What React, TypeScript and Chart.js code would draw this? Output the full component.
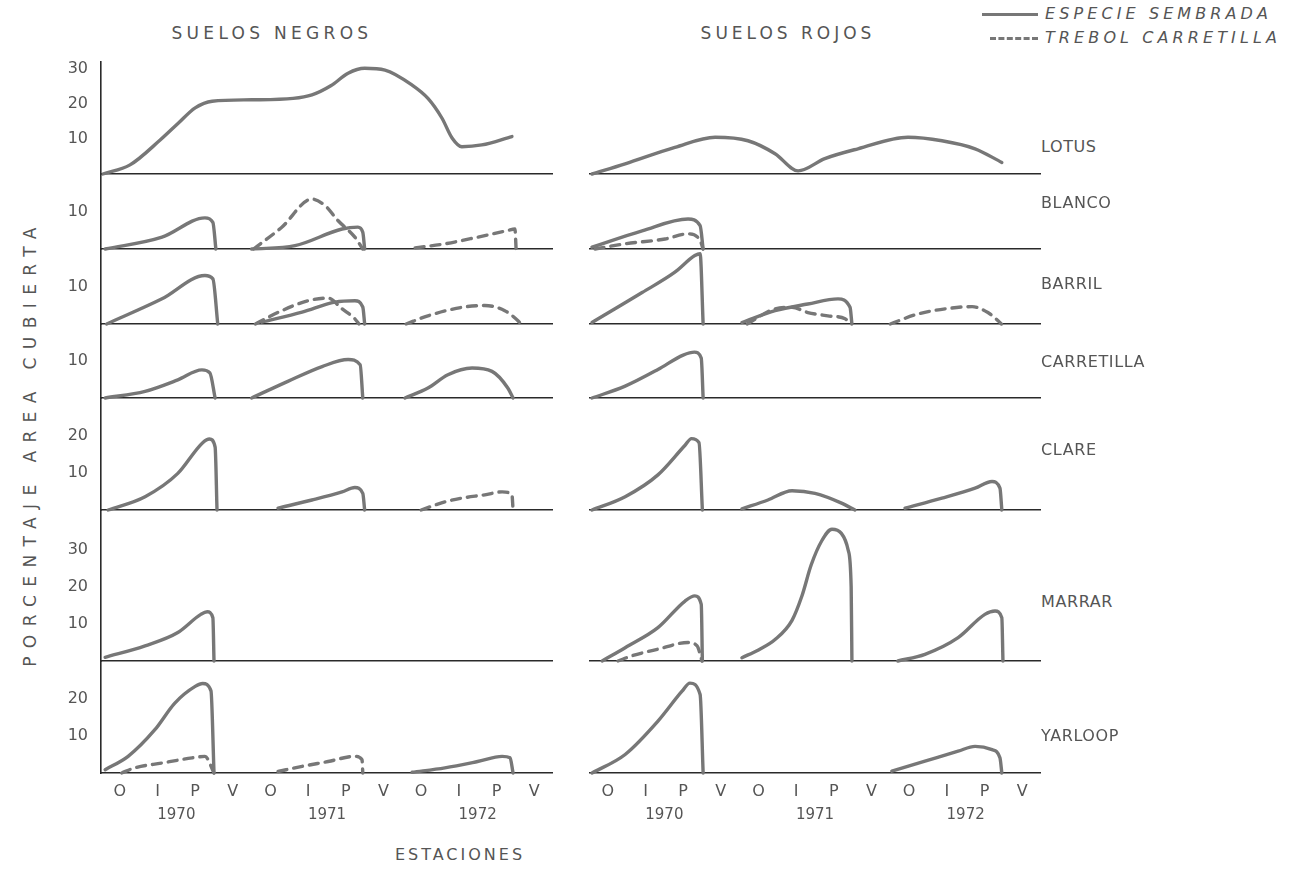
import React, { useEffect, useRef } from 'react';
import { Chart, registerables } from 'chart.js';

Chart.register(...registerables);

// Seasons on each x axis (Otoño, Invierno, Primavera, Verano) for three years
const seasonLabels = ['O', 'I', 'P', 'V', 'O', 'I', 'P', 'V', 'O', 'I', 'P', 'V'];
const yearLabels = ['1970', '1971', '1972'];
const speciesNames = ['LOTUS', 'BLANCO', 'BARRIL', 'CARRETILLA', 'CLARE', 'MARRAR', 'YARLOOP'];
const soilTitles = ['SUELOS NEGROS', 'SUELOS ROJOS'];
const seriesNames = ['ESPECIE SEMBRADA', 'TREBOL CARRETILLA'];
const yTickValues = [[10, 20, 30], [10], [10], [10], [10, 20], [10, 20, 30], [10, 20]];

// Each point: [season position, % area cubierta]; null ends a growing period
type Pt = [number, number | null];

// ---- Suelos negros ----
const negrosLotusSembrada: Pt[] = [[-0.45, 0], [0.27, 2.6], [1.07, 9.7], [1.55, 14.5], [2.0, 18.9], [2.45, 20.8], [3.5, 21.2], [4.6, 21.6], [5.1, 22.6], [5.6, 25.2], [6.06, 28.8], [6.5, 30.2], [7.04, 29.7], [7.76, 25.4], [8.18, 21.6], [8.55, 16], [8.82, 10.3], [9.08, 7.8], [9.61, 8.3], [10.41, 10.7]];
const negrosLotusTrebol: Pt[] = [];
const negrosBlancoSembrada: Pt[] = [[-0.39, 0], [1.12, 3.2], [2.26, 8.4], [2.47, 7.2], [2.55, 0], [3, null], [3.5, 0], [4.65, 0.9], [5.9, 5.4], [6.32, 5.9], [6.45, 4.5], [6.5, 0]];
const negrosBlancoTrebol: Pt[] = [[3.55, 0], [4.3, 5.9], [5.1, 13.5], [5.45, 11.7], [5.79, 7.7], [6.24, 3.2], [6.45, 0], [7, null], [7.84, 0.3], [8.63, 1.4], [9.5, 3.2], [10.3, 5.0], [10.49, 5.4], [10.52, 0]];
const negrosBarrilSembrada: Pt[] = [[-0.35, 0], [1.12, 6.8], [2.26, 13.1], [2.47, 12.2], [2.6, 0], [3, null], [3.77, 0.5], [4.84, 3.2], [5.71, 5.9], [6.24, 6.3], [6.45, 4.6], [6.5, 0]];
const negrosBarrilTrebol: Pt[] = [[3.6, 0], [4.3, 3.6], [5.0, 6.3], [5.53, 7.0], [5.9, 4.1], [6.24, 1.4], [6.35, 0], [7, null], [7.6, 0], [8.18, 2.2], [9.08, 4.5], [9.69, 5.0], [10.22, 3.6], [10.57, 0.9], [10.65, 0]];
const negrosCarretillaSembrada: Pt[] = [[-0.39, 0], [0.67, 1.8], [1.54, 4.9], [2.18, 7.6], [2.39, 6.8], [2.53, 0], [3, null], [3.5, 0], [4.46, 4.5], [5.37, 8.5], [6.06, 10.4], [6.38, 9.0], [6.45, 0], [7, null], [7.57, 0], [8.18, 2.7], [8.71, 6.3], [9.35, 8.1], [9.88, 7.2], [10.3, 2.7], [10.44, 0]];
const negrosCarretillaTrebol: Pt[] = [];
const negrosClareSembrada: Pt[] = [[-0.31, 0], [0.67, 3.6], [1.54, 9.9], [2.2, 18.2], [2.38, 19.2], [2.53, 17.0], [2.58, 0], [3, null], [4.2, 0.5], [5.1, 2.7], [5.9, 4.9], [6.24, 6.1], [6.45, 4.5], [6.5, 0]];
const negrosClareTrebol: Pt[] = [[8.0, 0], [8.63, 2.2], [9.08, 3.2], [9.69, 4.1], [10.15, 4.9], [10.41, 4.1], [10.44, 0]];
const negrosMarrarSembrada: Pt[] = [[-0.39, 1], [0.67, 4.1], [1.54, 7.7], [2.15, 12.6], [2.32, 13.3], [2.47, 11.7], [2.5, 0]];
const negrosMarrarTrebol: Pt[] = [];
const negrosYarloopSembrada: Pt[] = [[-0.39, 0.9], [0.22, 4.5], [0.93, 11.7], [1.46, 18.9], [2.0, 23.4], [2.2, 24.2], [2.42, 22.2], [2.5, 0], [3, null], [7.76, 0.2], [8.63, 1.4], [9.5, 3.1], [10.15, 4.5], [10.36, 4.1], [10.44, 0]];
const negrosYarloopTrebol: Pt[] = [[0.05, 0], [0.4, 1.4], [1.12, 2.7], [1.92, 4.1], [2.26, 4.5], [2.5, 0], [3, null], [4.2, 0.4], [4.84, 1.8], [5.53, 3.1], [6.24, 4.5], [6.43, 3.6], [6.45, 0]];

// ---- Suelos rojos ----
const rojosLotusSembrada: Pt[] = [[-0.42, 0], [0.46, 2.9], [1.78, 7.6], [2.85, 10.5], [3.72, 9.5], [4.44, 5.8], [5.05, 0.9], [5.76, 4.4], [6.64, 7.2], [7.97, 10.5], [8.87, 9.5], [9.75, 7.2], [10.46, 3.3]];
const rojosLotusTrebol: Pt[] = [];
const rojosBlancoSembrada: Pt[] = [[-0.42, 0.5], [0.91, 4.9], [2.13, 8.1], [2.45, 6.3], [2.53, 0]];
const rojosBlancoTrebol: Pt[] = [[-0.34, 0], [0.46, 1.4], [1.52, 2.7], [2.13, 4.1], [2.45, 2.3], [2.53, 0]];
const rojosBarrilSembrada: Pt[] = [[-0.42, 0.4], [0.91, 8.5], [1.78, 14.0], [2.31, 18.5], [2.45, 19], [2.53, 0], [3, null], [3.56, 0.4], [4.44, 3.6], [5.31, 5.4], [6.11, 6.8], [6.43, 4.5], [6.48, 0]];
const rojosBarrilTrebol: Pt[] = [[3.7, 0], [4.44, 4.1], [4.89, 4.5], [5.31, 3.1], [5.84, 2.2], [6.3, 1.4], [6.45, 0], [7, null], [7.5, 0], [8.23, 2.7], [9.03, 4.2], [9.67, 4.7], [10.09, 3.1], [10.36, 0.9], [10.45, 0]];
const rojosCarretillaSembrada: Pt[] = [[-0.42, 0], [0.46, 3.2], [1.33, 7.7], [2.0, 11.6], [2.3, 12.4], [2.48, 10.8], [2.53, 0]];
const rojosCarretillaTrebol: Pt[] = [];
const rojosClareSembrada: Pt[] = [[-0.42, 0], [0.46, 3.6], [1.33, 9.5], [2.05, 17.5], [2.22, 19.3], [2.42, 18.2], [2.51, 0], [3, null], [3.56, 0.3], [4.25, 2.7], [4.89, 5.2], [5.5, 4.5], [6.22, 1.8], [6.56, 0], [7, null], [7.89, 0.5], [8.87, 3.2], [9.75, 5.9], [10.2, 7.7], [10.41, 5.9], [10.46, 0]];
const rojosClareTrebol: Pt[] = [];
const rojosMarrarSembrada: Pt[] = [[-0.15, 0], [0.46, 3.6], [1.33, 9.0], [2.05, 16.2], [2.31, 17.6], [2.48, 15.3], [2.51, 0], [3, null], [3.56, 0.9], [4.0, 3.0], [4.44, 5.8], [4.89, 11], [5.15, 17.5], [5.4, 26], [5.68, 32.5], [5.95, 35.6], [6.2, 34.5], [6.38, 30], [6.46, 20], [6.48, 0], [7, null], [7.7, 0], [8.42, 1.8], [9.3, 6.3], [10.01, 12.6], [10.28, 13.5], [10.46, 11.7], [10.49, 0]];
const rojosMarrarTrebol: Pt[] = [[0.27, 0], [0.64, 1.4], [1.33, 3.2], [2.13, 5.0], [2.37, 4.1], [2.5, 0]];
const rojosYarloopSembrada: Pt[] = [[-0.42, 0], [0.46, 5.0], [1.33, 14.0], [1.97, 22.1], [2.18, 24.3], [2.45, 21.2], [2.53, 0], [3, null], [7.54, 0.5], [8.42, 3.2], [9.3, 5.9], [9.75, 7.2], [10.2, 6.3], [10.41, 4.1], [10.46, 0]];
const rojosYarloopTrebol: Pt[] = [];

const negrosSembrada = [negrosLotusSembrada, negrosBlancoSembrada, negrosBarrilSembrada, negrosCarretillaSembrada, negrosClareSembrada, negrosMarrarSembrada, negrosYarloopSembrada];
const negrosTrebol = [negrosLotusTrebol, negrosBlancoTrebol, negrosBarrilTrebol, negrosCarretillaTrebol, negrosClareTrebol, negrosMarrarTrebol, negrosYarloopTrebol];
const rojosSembrada = [rojosLotusSembrada, rojosBlancoSembrada, rojosBarrilSembrada, rojosCarretillaSembrada, rojosClareSembrada, rojosMarrarSembrada, rojosYarloopSembrada];
const rojosTrebol = [rojosLotusTrebol, rojosBlancoTrebol, rojosBarrilTrebol, rojosCarretillaTrebol, rojosClareTrebol, rojosMarrarTrebol, rojosYarloopTrebol];

// ---- Layout (pixels) ----
const ROWS = [
  { top: 62, base: 174, ppu: 3.5 },
  { top: 174, base: 249, ppu: 3.7 },
  { top: 249, base: 324, ppu: 3.7 },
  { top: 324, base: 398, ppu: 3.7 },
  { top: 398, base: 510, ppu: 3.7 },
  { top: 510, base: 661, ppu: 3.7 },
  { top: 661, base: 773, ppu: 3.7 },
];
const LEFT_AXIS_X = 101;
const LEFT_CANVAS_X = 40;
const PLOT_W = 452;
const RIGHT_PLOT_X = 589;
const PAD_TOP = 8;
const PAD_BOTTOM = 4;
const SEASON_AXIS_H = 28;
const YEAR_AXIS_H = 32;
const ROW_LABEL_Y = [147, 203, 284, 362, 450, 602, 736];

const LINE_COLOR = '#777';
const AXIS_COLOR = '#2a2a2a';
const TEXT_COLOR = '#555';
const FONT = '"DejaVu Sans", sans-serif';

const toXY = (pts: Pt[]) => pts.map(([x, y]) => ({ x, y }));

function Panel({ row, side }: { row: number; side: 'left' | 'right' }) {
  const ref = useRef<HTMLCanvasElement>(null);
  const { top, base, ppu } = ROWS[row];
  const isLeft = side === 'left';
  const isBottom = row === ROWS.length - 1;
  const axisW = isLeft ? LEFT_AXIS_X - LEFT_CANVAS_X : 0;
  const width = PLOT_W + axisW;
  const bottomH = isBottom ? SEASON_AXIS_H + YEAR_AXIS_H : PAD_BOTTOM;
  const height = base - top + PAD_TOP + bottomH;
  const left = isLeft ? LEFT_CANVAS_X : RIGHT_PLOT_X;
  const ymax = (base - top) / ppu;

  useEffect(() => {
    const canvas = ref.current;
    if (!canvas) return;
    const sembrada = (isLeft ? negrosSembrada : rojosSembrada)[row];
    const trebol = (isLeft ? negrosTrebol : rojosTrebol)[row];
    const lineBase = {
      borderColor: LINE_COLOR,
      borderWidth: 3.4,
      pointRadius: 0,
      cubicInterpolationMode: 'monotone' as const,
      fill: false,
      clip: false as const,
      xAxisID: 'x',
      yAxisID: 'y',
      borderCapStyle: 'round' as const,
      borderJoinStyle: 'round' as const,
    };
    const noPad = (s: any) => {
      s.paddingLeft = 0;
      s.paddingRight = 0;
      s.paddingTop = 0;
      s.paddingBottom = 0;
    };
    const tickFont = { family: FONT, size: 16 };

    const scales: any = {
      x: {
        type: 'linear',
        position: 'bottom',
        min: -0.5,
        max: 11.5,
        weight: 0,
        grid: { display: false, drawTicks: false },
        border: { display: true, color: AXIS_COLOR, width: 1.6 },
        afterBuildTicks: (s: any) => {
          s.ticks = seasonLabels.map((_, i) => ({ value: i }));
        },
        ticks: isBottom
          ? {
              display: true,
              autoSkip: false,
              maxRotation: 0,
              padding: 9,
              color: TEXT_COLOR,
              font: tickFont,
              callback: (_v: any, i: number) => seasonLabels[i],
            }
          : { display: false },
        afterFit: (s: any) => {
          s.height = isBottom ? SEASON_AXIS_H : PAD_BOTTOM;
          noPad(s);
        },
      },
      y: {
        type: 'linear',
        position: 'left',
        min: 0,
        max: ymax,
        display: isLeft,
        grid: { display: false, drawTicks: false },
        border: { display: true, color: AXIS_COLOR, width: 1.6 },
        afterBuildTicks: (s: any) => {
          s.ticks = yTickValues[row].map((v) => ({ value: v }));
        },
        ticks: {
          padding: 13,
          color: TEXT_COLOR,
          font: tickFont,
          callback: (v: any) => String(v),
        },
        afterFit: (s: any) => {
          s.width = axisW;
          noPad(s);
        },
      },
    };
    if (isBottom) {
      scales.xYear = {
        type: 'linear',
        position: 'bottom',
        min: -0.5,
        max: 11.5,
        weight: 1,
        grid: { display: false, drawTicks: false },
        border: { display: false },
        afterBuildTicks: (s: any) => {
          s.ticks = yearLabels.map((_, i) => ({ value: 1.5 + 4 * i }));
        },
        ticks: {
          autoSkip: false,
          maxRotation: 0,
          padding: 5,
          color: TEXT_COLOR,
          font: { family: FONT, size: 15 },
          callback: (_v: any, i: number) => yearLabels[i],
        },
        afterFit: (s: any) => {
          s.height = YEAR_AXIS_H;
          noPad(s);
        },
      };
    }

    const chart = new Chart(canvas, {
      type: 'line',
      data: {
        datasets: [
          { ...lineBase, label: seriesNames[0], data: toXY(sembrada) },
          { ...lineBase, label: seriesNames[1], data: toXY(trebol), borderDash: [9, 7] },
        ],
      },
      options: {
        animation: false,
        responsive: false,
        devicePixelRatio: 1,
        events: [],
        spanGaps: false,
        layout: { padding: { top: PAD_TOP, bottom: 0, left: 0, right: 0 } },
        plugins: { legend: { display: false }, tooltip: { enabled: false }, title: { display: false } },
        scales,
      } as any,
    });
    return () => chart.destroy();
  }, [row, side]);

  return (
    <canvas
      ref={ref}
      width={width}
      height={height}
      style={{ position: 'absolute', left, top: top - PAD_TOP, width, height }}
    />
  );
}

const textBase: React.CSSProperties = {
  position: 'absolute',
  fontFamily: FONT,
  color: TEXT_COLOR,
  whiteSpace: 'nowrap',
  lineHeight: 1,
};

function Centered({ x, y, size, spacing, children }: any) {
  return (
    <div
      style={{
        ...textBase,
        left: x,
        top: y,
        fontSize: size,
        letterSpacing: spacing,
        transform: 'translate(-50%, -50%)',
      }}
    >
      {children}
    </div>
  );
}

function LegendItem({ y, dashed, label }: { y: number; dashed: boolean; label: string }) {
  return (
    <>
      <div
        style={{
          position: 'absolute',
          left: dashed ? 990 : 982,
          top: y - 1.5,
          width: dashed ? 48 : 56,
          height: 0,
          borderTop: `3px ${dashed ? 'dashed' : 'solid'} ${LINE_COLOR}`,
        }}
      />
      <div
        style={{
          ...textBase,
          left: 1045,
          top: y,
          fontSize: 16,
          letterSpacing: 4.1,
          fontStyle: 'italic',
          transform: 'translateY(-50%)',
        }}
      >
        {label}
      </div>
    </>
  );
}

export default function App() {
  return (
    <div
      style={{
        position: 'absolute',
        left: 0,
        top: 0,
        width: 1289,
        height: 891,
        background: '#fff',
        overflow: 'hidden',
      }}
    >
      {ROWS.map((_, r) => (
        <React.Fragment key={r}>
          <Panel row={r} side="left" />
          <Panel row={r} side="right" />
        </React.Fragment>
      ))}

      <Centered x={272} y={33} size={17} spacing={4.3}>{soilTitles[0]}</Centered>
      <Centered x={788} y={33} size={17} spacing={4}>{soilTitles[1]}</Centered>

      <LegendItem y={14} dashed={false} label={seriesNames[0]} />
      <LegendItem y={38} dashed={true} label={seriesNames[1]} />

      {speciesNames.map((name, i) => (
        <div
          key={name}
          style={{
            ...textBase,
            left: 1041,
            top: ROW_LABEL_Y[i],
            fontSize: 16,
            letterSpacing: 0.6,
            transform: 'translateY(-50%)',
          }}
        >
          {name}
        </div>
      ))}

      <div
        style={{
          ...textBase,
          left: 30,
          top: 443,
          fontSize: 17,
          letterSpacing: 8.4,
          transform: 'translate(-50%, -50%) rotate(-90deg)',
        }}
      >
        PORCENTAJE AREA CUBIERTA
      </div>

      <Centered x={460} y={855} size={16} spacing={3}>ESTACIONES</Centered>
    </div>
  );
}
